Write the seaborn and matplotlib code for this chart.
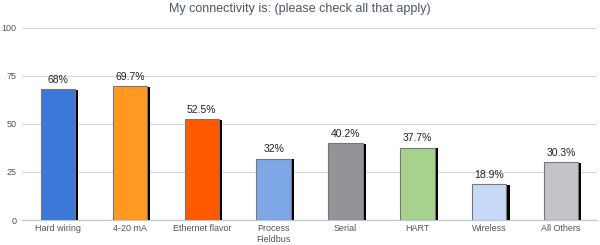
import matplotlib
matplotlib.use("Agg")
import matplotlib.pyplot as plt
import matplotlib.patheffects as pe
import seaborn as sns
import pandas as pd
import numpy as np

categories = ["Hard wiring", "4-20 mA", "Ethernet flavor", "Process\nFieldbus",
              "Serial", "HART", "Wireless", "All Others"]
values = [68.0, 69.7, 52.5, 32.0, 40.2, 37.7, 18.9, 30.3]
value_labels = ["68%", "69.7%", "52.5%", "32%", "40.2%", "37.7%", "18.9%", "30.3%"]
colors = ["#3c78d8", "#ff9922", "#ff5a00", "#7ea7e8",
          "#949498", "#a6d28c", "#c9daf8", "#c4c4c8"]
yticks = [0, 25, 50, 75, 100]
title = "My connectivity is: (please check all that apply)"

sns.set_theme(style="white")
plt.rcParams['font.family'] = ['Liberation Sans', 'DejaVu Sans']

df = pd.DataFrame({"cat": categories, "val": values})

fig = plt.figure(figsize=(6, 2.45), dpi=100)
ax = fig.add_axes([0.037, 0.102, 0.958, 0.784])

sns.barplot(data=df, x="cat", y="val", hue="cat", palette=colors, legend=False,
            saturation=1, width=0.48, edgecolor="#777777", linewidth=0.8, ax=ax, zorder=3)

for p in ax.patches:
    p.set_path_effects([pe.SimplePatchShadow(offset=(2.2, -0.6), shadow_rgbFace="black", alpha=1.0),
                        pe.Normal()])

for i, cont in enumerate(ax.containers):
    ax.bar_label(cont, labels=[value_labels[i]], padding=3, fontsize=7.5, color="#222222")

ax.set_ylim(0, 100)
ax.set_xlim(-0.5, len(categories) - 0.5)
ax.set_yticks(yticks)
ax.set_yticklabels([str(t) for t in yticks], fontsize=6.5, color="#555555")
ax.tick_params(axis="y", length=0, pad=4)
ax.tick_params(axis="x", length=0, labelsize=6.5, labelcolor="#555555", pad=3)
ax.set_xticks(np.arange(len(categories)) + 0.5, minor=True)
ax.tick_params(axis="x", which="minor", length=3, color="#c8d4da", direction="out")
ax.grid(axis="y", color="#d8d8d8", linewidth=0.9, zorder=0)
ax.set_axisbelow(True)
for s in ["top", "right", "left"]:
    ax.spines[s].set_visible(False)
ax.spines["bottom"].set_color("#b8cad2")
ax.spines["bottom"].set_linewidth(0.9)
ax.set_xlabel("")
ax.set_ylabel("")
fig.text(0.5, 0.965, title, ha="center", va="center", fontsize=9, color="#4a5868")

fig.savefig("out.png", dpi=100)
